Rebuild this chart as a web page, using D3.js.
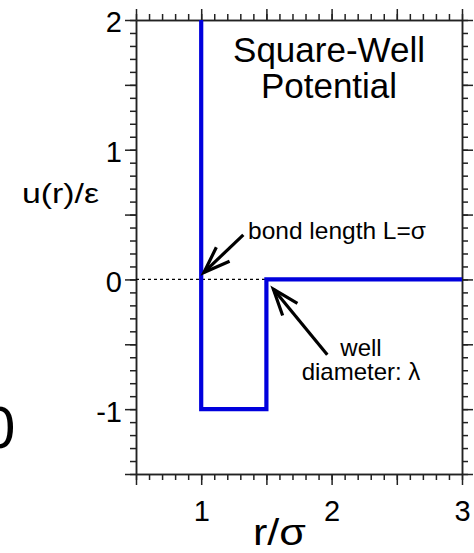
<!DOCTYPE html>
<html>
<head>
<meta charset="utf-8">
<script src="https://cdn.jsdelivr.net/npm/d3@7"></script>
<style>
  body { margin: 0; background: #fff; }
  svg { display: block; font-family: "Liberation Sans", Arial, Helvetica, sans-serif; }
  .axis path, .axis line { stroke: #222; stroke-width: 1.5; }
  .axis text { fill: #000; font-size: 29px; font-family: "Liberation Sans", Arial, sans-serif; }
</style>
</head>
<body>
<div id="chart"></div>
<script>
// DATA
let well_r = [1, 1, 1.5, 1.5, 3];
let well_u = [2, -1, -1, 0, 0];
let zero_r = [0.5, 1.5];
let x_labels = [1, 2, 3];
let y_labels = [-1, 0, 1, 2];
let x_major = [0.5, 1, 1.5, 2, 2.5, 3];
let y_major = [-1.5, -1, -0.5, 0, 0.5, 1, 1.5, 2];
let x_minor = d3.range(5, 31).map(i => i / 10);
let y_minor = d3.range(-15, 21).map(i => i / 10);

// CHART AREA
let W = 474, H = 553;
let margin = {top: 20, right: 12, bottom: 79, left: 136};

let svg = d3.select("#chart").append("svg")
    .attr("width", W)
    .attr("height", H);

// SCALES
let x = d3.scaleLinear().domain([0.5, 3]).range([margin.left, W - margin.right]);
let y = d3.scaleLinear().domain([-1.5, 2]).range([H - margin.bottom, margin.top]);

// AXES (ticks point outward on all four sides)
let fmtX = d => x_labels.includes(d) ? d : "";
let fmtY = d => y_labels.includes(d) ? d : "";

function addAxis(axis, transform) {
    return svg.append("g").attr("class", "axis")
        .attr("transform", transform)
        .call(axis);
}

let y_bottom = y.range()[0], y_top = y.range()[1], x_left = x.range()[0], x_right = x.range()[1];

addAxis(d3.axisBottom(x).tickValues(x_minor).tickSize(6).tickSizeOuter(0).tickFormat(""), `translate(0,${y_bottom})`);
let gx = addAxis(d3.axisBottom(x).tickValues(x_major).tickSize(11).tickSizeOuter(0).tickPadding(15).tickFormat(fmtX), `translate(0,${y_bottom})`);
addAxis(d3.axisTop(x).tickValues(x_minor).tickSize(6).tickSizeOuter(0).tickFormat(""), `translate(0,${y_top})`);
addAxis(d3.axisTop(x).tickValues(x_major).tickSize(11).tickSizeOuter(0).tickFormat(""), `translate(0,${y_top})`);

addAxis(d3.axisLeft(y).tickValues(y_minor).tickSize(6).tickSizeOuter(0).tickFormat(""), `translate(${x_left},0)`);
let gy = addAxis(d3.axisLeft(y).tickValues(y_major).tickSize(11).tickSizeOuter(0).tickPadding(3).tickFormat(fmtY), `translate(${x_left},0)`);
addAxis(d3.axisRight(y).tickValues(y_minor).tickSize(6).tickSizeOuter(0).tickFormat(""), `translate(${x_right},0)`);
addAxis(d3.axisRight(y).tickValues(y_major).tickSize(11).tickSizeOuter(0).tickFormat(""), `translate(${x_right},0)`);

gy.selectAll("text").attr("dy", "0.41em");

// zero reference line
svg.append("line")
    .attr("x1", x(zero_r[0])).attr("x2", x(zero_r[1]))
    .attr("y1", y(0)).attr("y2", y(0))
    .attr("stroke", "#000")
    .attr("stroke-width", 1.3)
    .attr("stroke-dasharray", "3,3");

// SQUARE-WELL POTENTIAL
let line = d3.line()
    .x((d, i) => x(well_r[i]))
    .y((d, i) => y(well_u[i]));

svg.append("path")
    .attr("d", line(well_r))
    .attr("fill", "none")
    .attr("stroke", "#0000dd")
    .attr("stroke-width", 4.2)
    .attr("stroke-linejoin", "miter");

// ARROWS
function arrow(tail, tip) {
    let x0 = x(tail[0]), y0 = y(tail[1]), x1 = x(tip[0]), y1 = y(tip[1]);
    let a = Math.atan2(y0 - y1, x0 - x1), len = 28, spread = 20 * Math.PI / 180;
    let g = svg.append("g")
        .attr("stroke", "#000").attr("stroke-width", 3.2).attr("fill", "none")
        .attr("stroke-linecap", "butt");
    g.append("line").attr("x1", x0).attr("y1", y0).attr("x2", x1).attr("y2", y1);
    g.append("path")
        .attr("stroke-linejoin", "miter")
        .attr("d", `M${x1 + len * Math.cos(a - spread)},${y1 + len * Math.sin(a - spread)}L${x1},${y1}L${x1 + len * Math.cos(a + spread)},${y1 + len * Math.sin(a + spread)}`);
}
arrow([1.323, 0.344], [1.021, 0.054]);
arrow([1.967, -0.58], [1.553, -0.074]);

// TEXT
let font = "'Liberation Sans', Arial, sans-serif";
function label(str, px, py, size, anchor, len) {
    let t = svg.append("text")
        .attr("x", px).attr("y", py)
        .attr("font-size", size)
        .attr("font-family", font)
        .attr("text-anchor", anchor)
        .attr("fill", "#000")
        .text(str);
    if (len) t.attr("textLength", len).attr("lengthAdjust", "spacingAndGlyphs");
    return t;
}

label("Square-Well", 329, 62, 35, "middle");
label("Potential", 329, 98, 35, "middle");
label("bond length L=σ", 248, 239, 24.5, "start");
label("well", 361, 356, 24, "middle");
label("diameter: λ", 361, 380, 24, "middle");
label("u(r)/ε", 22, 203, 28, "start", 77);
label("r/σ", 253, 545, 36, "start", 53);
label("0", -18, 448, 60, "start");
</script>
</body>
</html>
